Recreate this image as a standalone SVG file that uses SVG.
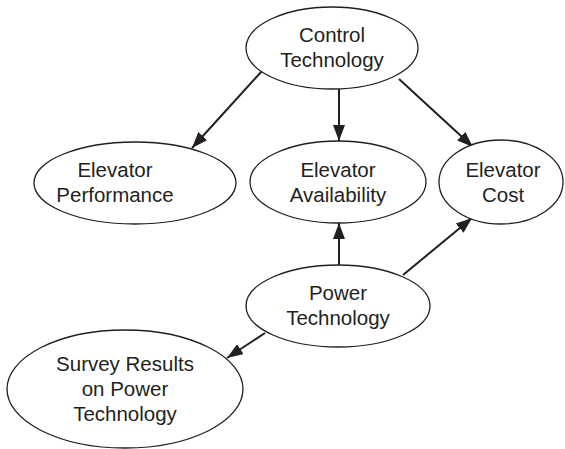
<svg xmlns="http://www.w3.org/2000/svg" width="565" height="449" viewBox="0 0 565 449">
<defs>
<marker id="ah" viewBox="0 0 16 12" refX="16" refY="6" markerWidth="16" markerHeight="12" markerUnits="userSpaceOnUse" orient="auto">
<path d="M0,0 L16,6 L0,12 Z" fill="#231f20"/>
</marker>
<style>
.n ellipse{fill:#fff;stroke:#231f20;stroke-width:1.3}
.n text{font-family:"Liberation Sans",Arial,sans-serif;font-size:20.5px;fill:#231f20;text-anchor:middle}
.c line{stroke:#231f20;stroke-width:2;marker-end:url(#ah)}
</style>
</defs>
<rect width="565" height="449" fill="#fff"/>
<g class="c" id="connectors">
<line x1="262" y1="71" x2="192" y2="148"/>
<line x1="339" y1="89" x2="339" y2="141"/>
<line x1="399" y1="79" x2="473" y2="147"/>
<line x1="339" y1="265" x2="339" y2="223"/>
<line x1="403" y1="275" x2="472" y2="218"/>
<line x1="265" y1="333" x2="227" y2="358"/>
</g>
<g class="n" id="control">
<ellipse cx="332" cy="48" rx="86" ry="41"/>
<text x="332" y="42">Control</text>
<text x="332" y="67">Technology</text>
</g>
<g class="n" id="performance">
<ellipse cx="135" cy="183" rx="101" ry="41"/>
<text x="115" y="177">Elevator</text>
<text x="115" y="202">Performance</text>
</g>
<g class="n" id="availability">
<ellipse cx="338" cy="182" rx="88" ry="41"/>
<text x="338" y="177">Elevator</text>
<text x="338" y="202">Availability</text>
</g>
<g class="n" id="cost">
<ellipse cx="501" cy="182" rx="62" ry="42"/>
<text x="503" y="177">Elevator</text>
<text x="503" y="202">Cost</text>
</g>
<g class="n" id="power">
<ellipse cx="338" cy="306" rx="92" ry="41"/>
<text x="338" y="300">Power</text>
<text x="338" y="325">Technology</text>
</g>
<g class="n" id="survey">
<ellipse cx="125" cy="389" rx="118" ry="59"/>
<text x="125" y="371">Survey Results</text>
<text x="125" y="396">on Power</text>
<text x="125" y="421">Technology</text>
</g>
</svg>
